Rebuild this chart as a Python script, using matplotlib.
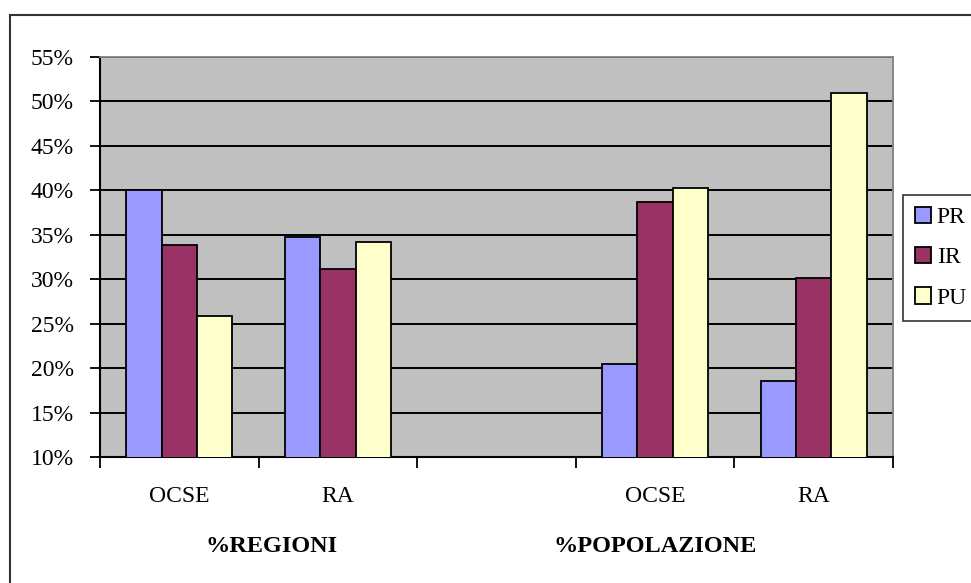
import numpy as np
import matplotlib.pyplot as plt
from matplotlib.patches import Rectangle

plt.rcParams['font.family'] = ['Liberation Serif', 'DejaVu Serif']

categories = ["OCSE", "RA", "", "OCSE", "RA"]
groups = ["%REGIONI", "%POPOLAZIONE"]
series = ["PR", "IR", "PU"]
pr = [40.0, 34.7, np.nan, 20.5, 18.6]
ir = [33.8, 31.1, np.nan, 38.7, 30.1]
pu = [25.9, 34.2, np.nan, 40.3, 50.9]
colors = ["#9999FF", "#993366", "#FFFFCC"]

fig = plt.figure(figsize=(9.71, 5.83), dpi=100)
ax = fig.add_axes([100 / 971, 1 - 457 / 583, 793 / 971, 400 / 583])

# outer chart frame (runs off the right and bottom edges)
fig.patches.append(Rectangle((10 / 971, -0.05), 1.0, 1 - 15 / 583 + 0.05,
                             transform=fig.transFigure, fill=False,
                             edgecolor="#333333", linewidth=1.5))

x = np.arange(len(categories))
w = 1 / 4.5
for i, (vals, c, name) in enumerate(zip([pr, ir, pu], colors, series)):
    ax.bar(x + (i - 1) * w, vals, width=w, color=c, edgecolor="black",
           linewidth=1.3, label=name, zorder=3)

ax.set_facecolor("#C0C0C0")
ax.set_xlim(-0.5, len(categories) - 0.5)
ax.set_ylim(10, 55)
ax.set_yticks(np.arange(10, 56, 5))
ax.set_yticklabels([f"{v}%" for v in range(10, 56, 5)], fontsize=17)
ax.yaxis.grid(True, color="black", linewidth=1.4, zorder=1)
ax.set_axisbelow(True)

# slot boundaries as outward ticks, category names centred between them
ax.set_xticks(np.arange(-0.5, len(categories), 1.0))
ax.set_xticklabels([])
ax.tick_params(axis="x", direction="out", length=8, width=1.3)
ax.tick_params(axis="y", direction="out", length=7, width=1.3, pad=12)
for xi, name in zip(x, categories):
    ax.text(xi, -40 / 400, name, transform=ax.get_xaxis_transform(),
            ha="center", va="center", fontsize=17)
for gx, name in zip([0.58, 3.0], groups):
    ax.text(gx, -90 / 400, name, transform=ax.get_xaxis_transform(),
            ha="center", va="center", fontsize=17.5, fontweight="bold")

for side in ["top", "right"]:
    ax.spines[side].set_color("#808080")
    ax.spines[side].set_linewidth(1.3)
ax.spines["left"].set_linewidth(1.5)
ax.spines["bottom"].set_linewidth(1.5)

leg = ax.legend(loc="upper left", bbox_to_anchor=(903 / 971, 1 - 195 / 583),
                bbox_transform=fig.transFigure, fontsize=17, frameon=True,
                fancybox=False, edgecolor="black", handlelength=0.68,
                handleheight=0.68, handletextpad=0.25, labelspacing=0.8,
                borderpad=0.5, borderaxespad=0)
leg.get_frame().set_linewidth(1.2)

fig.savefig("out.png", dpi=100, facecolor="white")
